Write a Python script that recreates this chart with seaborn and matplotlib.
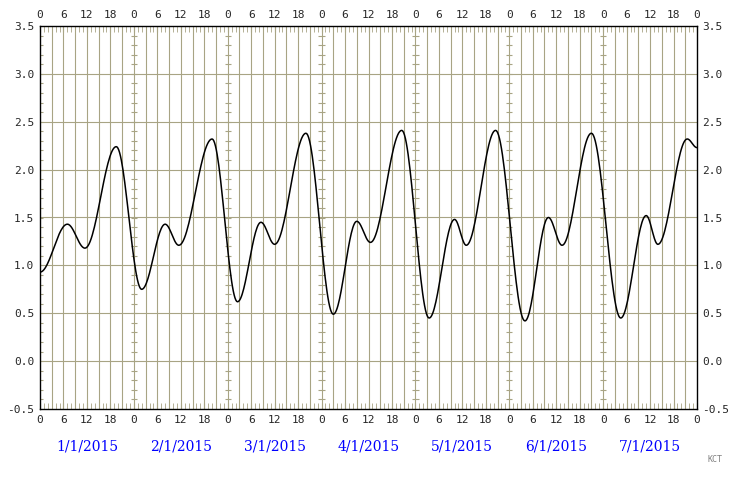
import numpy as np
import matplotlib
matplotlib.use("Agg")
import matplotlib.pyplot as plt
import seaborn as sns
import pandas as pd

sns.set_style("white")
plt.rcParams['font.family'] = ['DejaVu Sans Mono', 'DejaVu Sans']

# Extreme points (hours since 1/1/2015 00:00, water level)
hours = [0, 7, 11.5, 19.5, 26, 32, 35.5, 44, 50.5, 56.5, 60, 68, 75, 81, 84.5, 92.5,
         99.5, 106, 109, 116.5, 124, 130, 133.5, 141, 148.5, 155, 158, 165.5, 168]
levels = [0.93, 1.43, 1.18, 2.24, 0.75, 1.43, 1.21, 2.32, 0.62, 1.45, 1.22, 2.38,
          0.49, 1.46, 1.24, 2.41, 0.45, 1.48, 1.21, 2.41, 0.42, 1.50, 1.21, 2.38,
          0.45, 1.52, 1.22, 2.32, 2.23]
dates = ["1/1/2015", "2/1/2015", "3/1/2015", "4/1/2015", "5/1/2015", "6/1/2015", "7/1/2015"]
hour_labels = ["0", "6", "12", "18"]

# smooth drawing between extremes (half-cosine segments)
xs, ys = [], []
for i in range(len(hours) - 1):
    t = np.linspace(0, 1, 30, endpoint=False)
    w = (1 - np.cos(np.pi * t)) / 2
    xs.extend(hours[i] + (hours[i + 1] - hours[i]) * t)
    ys.extend(levels[i] + (levels[i + 1] - levels[i]) * w)
xs.append(hours[-1]); ys.append(levels[-1])
df = pd.DataFrame({"h": xs, "lvl": ys})

gc = "#a8a484"
fig = plt.figure(figsize=(7.4, 4.8), dpi=100)
ax = fig.add_axes([40/740, 71/480, 657/740, 383/480])
ax.set_xlim(0, 168)
ax.set_ylim(-0.5, 3.5)

# grid
for x in np.arange(3, 168, 3):
    ax.axvline(x, color=gc, lw=0.8, zorder=0)
for y in np.arange(0, 3.5, 0.5):
    ax.axhline(y, color=gc, lw=0.8, zorder=0)
for d in range(0, 7):
    ax.hlines(np.arange(-0.4, 3.5, 0.1), d*24 - (0 if d == 0 else 0.8), d*24 + 0.8,
              color=gc, lw=0.8, zorder=0)

sns.lineplot(data=df, x="h", y="lvl", ax=ax, color="black", lw=1.1, zorder=3)

for s in ax.spines.values():
    s.set_color("black"); s.set_linewidth(1)

ticks = np.arange(0, 169, 6)
ax.set_xticks(ticks)
ax.set_xticklabels([hour_labels[(i) % 4] for i in range(len(ticks))])
ax.set_xticks(np.arange(0, 169, 1), minor=True)
ax.tick_params(axis="x", which="major", direction="in", length=4, color=gc,
               top=True, bottom=True, labeltop=True, labelsize=8, pad=4)
ax.tick_params(axis="x", which="minor", direction="in", length=4, color=gc,
               top=True, bottom=True)
ax.set_yticks(np.arange(-0.5, 3.51, 0.5))
ax.set_yticklabels([f"{v:.1f}" for v in np.arange(-0.5, 3.51, 0.5)])
ax.tick_params(axis="y", which="major", length=0, left=True, right=True,
               labelleft=True, labelright=True, labelsize=8, pad=4)
ax.set_xlabel(""); ax.set_ylabel("")

for i, d in enumerate(dates):
    ax.text(i*24 + 12, -0.89, d, color="blue", ha="center", va="center",
            fontsize=10, family="DejaVu Serif")
fig.text(715/740, 1 - 460/480, "KCT", color="gray", fontsize=6, ha="center", va="center")

fig.savefig("out.png", dpi=100, facecolor="white")
